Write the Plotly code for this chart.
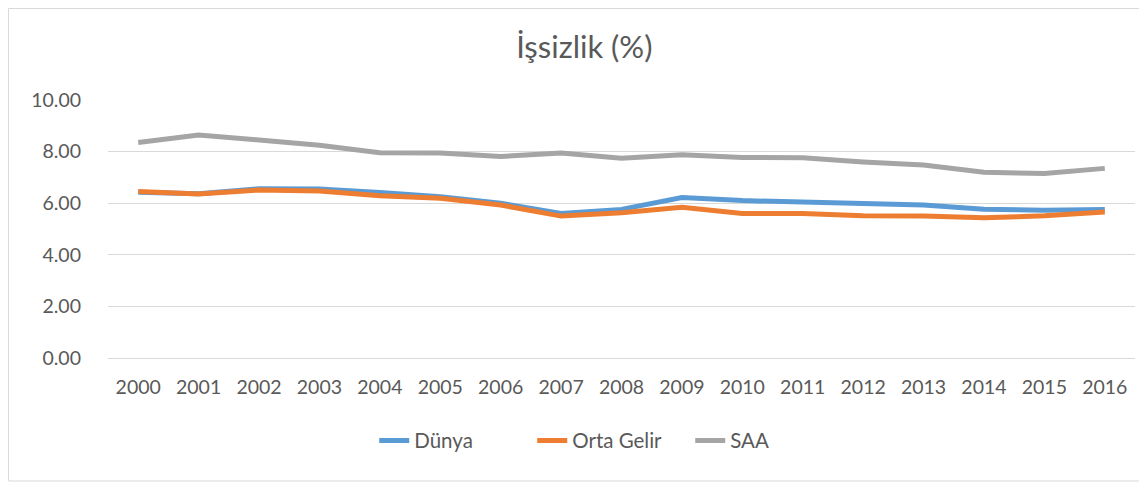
import plotly.graph_objects as go

years = [str(y) for y in range(2000, 2017)]
dunya = [6.42, 6.37, 6.56, 6.55, 6.41, 6.25, 6.00, 5.60, 5.76, 6.22, 6.10, 6.05, 5.97, 5.93, 5.77, 5.73, 5.76]
orta_gelir = [6.45, 6.36, 6.51, 6.47, 6.29, 6.19, 5.93, 5.50, 5.63, 5.84, 5.60, 5.60, 5.51, 5.50, 5.44, 5.51, 5.66]
saa = [8.35, 8.64, 8.45, 8.25, 7.96, 7.95, 7.81, 7.95, 7.74, 7.88, 7.77, 7.76, 7.60, 7.48, 7.20, 7.15, 7.35]

names = ["Dünya", "Orta Gelir", "SAA"]
colors = ["#5b9bd5", "#ed7d31", "#a5a5a5"]
series = [dunya, orta_gelir, saa]

FONT = "Lato, 'Open Sans', sans-serif"
TXT = "#595959"

fig = go.Figure()
for n, c, s in zip(names, colors, series):
    fig.add_trace(go.Scatter(x=years, y=s, name=n, mode="lines",
                             line=dict(color=c, width=5)))

fig.update_layout(
    width=1139, height=475,
    margin=dict(l=100, r=12, t=92, b=125),
    paper_bgcolor="white", plot_bgcolor="white",
    font=dict(family=FONT, size=19, color=TXT),
    title=dict(text="İşsizlik (%)", x=0.506, xanchor="center", y=0.918, yanchor="middle",
               font=dict(family=FONT, size=31, color=TXT)),
    showlegend=True,
    legend=dict(orientation="h", x=0.49, xanchor="center", y=-0.32, yanchor="middle",
                font=dict(family=FONT, size=20.5, color=TXT), entrywidth=113),
    hovermode=False,
    xaxis=dict(type="category", range=[-0.5, 16.5], showgrid=False, showline=True,
               linecolor="#d9d9d9", linewidth=1, ticks="", ticklabelstandoff=12,
               tickfont=dict(family=FONT, size=19.5, color=TXT)),
    yaxis=dict(range=[0, 10], dtick=2, tickformat=".2f", showgrid=True, gridcolor="#d9d9d9",
               gridwidth=1, zeroline=False, showline=False, ticks="", ticklabelstandoff=26,
               tickfont=dict(family=FONT, size=19.5, color=TXT)),
    shapes=[dict(type="rect", xref="paper", yref="paper", x0=-0.0969, x1=1.2, y0=-0.4767, y1=1.3547,
                 line=dict(color="#d9d9d9", width=1), fillcolor="rgba(0,0,0,0)", layer="below")],
)

fig.write_html("out.html")
